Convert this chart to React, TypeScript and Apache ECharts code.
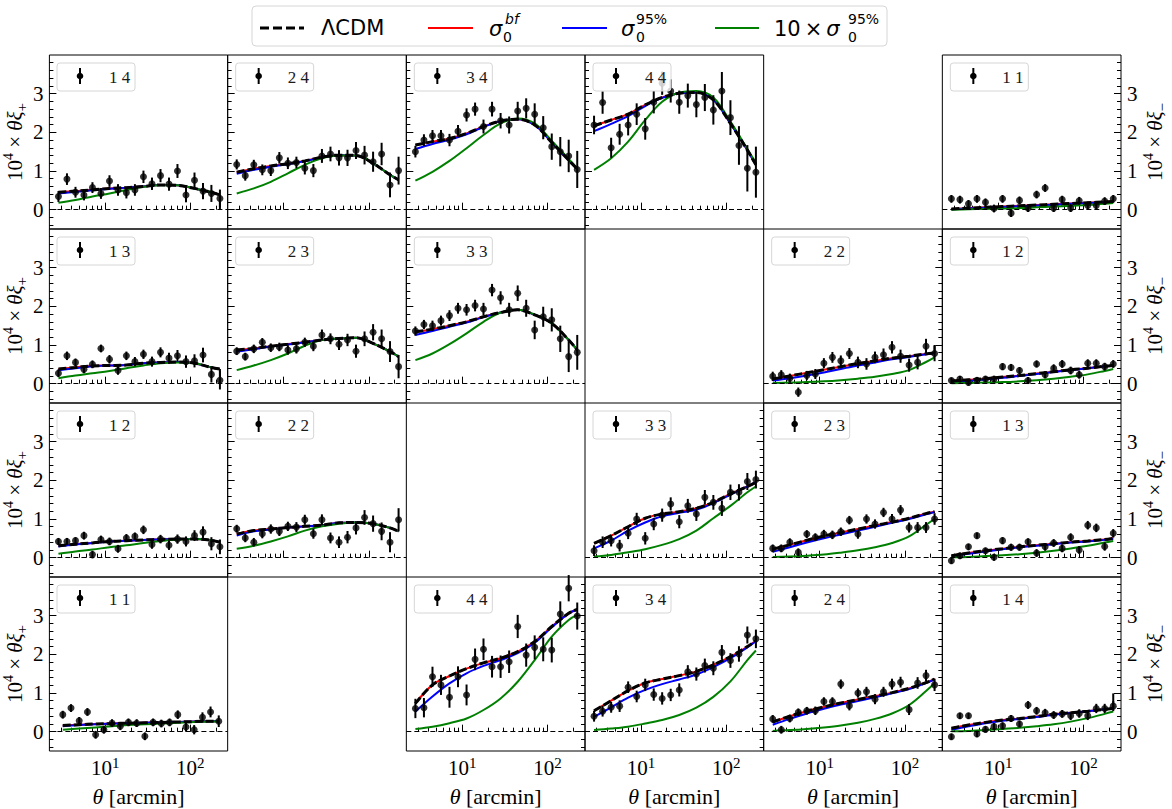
import { useEffect, useRef } from 'react';
import * as echarts from 'echarts';

// ---------- angular bins (arcmin) ----------
const THETA = [2.81, 3.54, 4.46, 5.61, 7.06, 8.89, 11.2, 14.1, 17.7, 22.3, 28.1, 35.4, 44.6, 56.1, 70.6, 88.9, 112, 141, 177, 223];
const THETA_11 = [3.16, 3.95, 4.93, 6.16, 7.7, 9.62, 12.0, 15.0, 18.7, 23.4, 29.2, 36.5, 45.6, 57.0, 71.2, 88.9, 111, 139, 173, 216];
const NODES = [2.81, 4.46, 7.06, 11.2, 17.7, 28.1, 44.6, 70.6, 112, 177, 223];
const NODES_11 = [3.16, 4.93, 7.7, 12.0, 18.7, 29.2, 45.6, 71.2, 111, 173, 216];

// ---------- tick positions ----------
const X_MAJOR_TICKS = [10, 100];
const X_MINOR_TICKS = [3, 4, 5, 6, 7, 8, 9, 20, 30, 40, 50, 60, 70, 80, 90, 200];
const Y_MAJOR_TICKS = [0, 1, 2, 3];
const Y_MINOR_TICKS = [-0.4, -0.2, 0.2, 0.4, 0.6, 0.8, 1.2, 1.4, 1.6, 1.8, 2.2, 2.4, 2.6, 2.8, 3.2, 3.4, 3.6, 3.8];

// ---------- xi_plus ----------
const P14_Y = [0.34, 0.79, 0.45, 0.38, 0.57, 0.42, 0.74, 0.51, 0.44, 0.51, 0.85, 0.67, 0.88, 0.66, 1.0, 0.38, 0.76, 0.48, 0.42, 0.29];
const P14_E = [0.14, 0.15, 0.14, 0.14, 0.14, 0.14, 0.15, 0.15, 0.15, 0.15, 0.16, 0.16, 0.17, 0.17, 0.18, 0.19, 0.2, 0.21, 0.22, 0.23];
const P14_L = [0.45, 0.48, 0.51, 0.55, 0.57, 0.6, 0.64, 0.63, 0.55, 0.45, 0.38];
const P14_N = [0.42, 0.46, 0.5, 0.54, 0.57, 0.6, 0.64, 0.63, 0.55, 0.45, 0.38];
const P14_T = [0.18, 0.25, 0.34, 0.42, 0.51, 0.59, 0.63, 0.63, 0.55, 0.45, 0.38];

const P24_Y = [1.17, 0.88, 1.16, 1.03, 1.01, 1.34, 1.2, 1.22, 1.07, 1.01, 1.39, 1.44, 1.34, 1.34, 1.53, 1.41, 1.24, 1.44, 0.64, 1.01];
const P24_E = [0.13, 0.13, 0.13, 0.14, 0.14, 0.15, 0.15, 0.15, 0.16, 0.17, 0.18, 0.19, 0.2, 0.21, 0.22, 0.24, 0.26, 0.29, 0.32, 0.36];
const P24_L = [0.97, 1.06, 1.13, 1.19, 1.26, 1.36, 1.41, 1.4, 1.2, 0.9, 0.77];
const P24_N = [0.93, 1.03, 1.11, 1.18, 1.25, 1.35, 1.41, 1.4, 1.2, 0.9, 0.77];
const P24_T = [0.42, 0.55, 0.72, 0.94, 1.16, 1.33, 1.4, 1.4, 1.2, 0.9, 0.77];

const P34_Y = [1.5, 1.8, 1.91, 1.91, 1.8, 2.03, 2.45, 2.6, 2.15, 2.6, 2.3, 2.19, 2.55, 2.62, 2.47, 2.12, 1.63, 1.5, 1.39, 1.04];
const P34_E = [0.15, 0.15, 0.15, 0.15, 0.16, 0.16, 0.17, 0.17, 0.18, 0.19, 0.2, 0.22, 0.24, 0.26, 0.28, 0.3, 0.34, 0.38, 0.42, 0.48];
const P34_L = [1.67, 1.76, 1.84, 1.97, 2.15, 2.29, 2.34, 2.19, 1.74, 1.28, 1.05];
const P34_N = [1.57, 1.7, 1.81, 1.95, 2.14, 2.29, 2.34, 2.19, 1.74, 1.28, 1.05];
const P34_T = [0.75, 0.98, 1.26, 1.59, 1.93, 2.23, 2.36, 2.23, 1.78, 1.31, 1.07];

const P44_Y = [2.19, 2.77, 1.6, 1.95, 2.19, 2.47, 2.09, 2.78, 3.27, 3.07, 2.78, 2.95, 2.72, 2.9, 2.58, 3.07, 2.38, 1.66, 1.07, 0.97];
const P44_E = [0.24, 0.29, 0.26, 0.27, 0.27, 0.28, 0.28, 0.29, 0.3, 0.3, 0.3, 0.31, 0.33, 0.35, 0.38, 0.49, 0.45, 0.5, 0.6, 0.66];
const P44_L = [2.17, 2.32, 2.47, 2.71, 2.9, 3.01, 3.03, 2.84, 2.23, 1.54, 1.16];
const P44_N = [2.03, 2.22, 2.42, 2.68, 2.89, 3.01, 3.03, 2.84, 2.23, 1.54, 1.16];
const P44_T = [1.03, 1.33, 1.76, 2.32, 2.79, 3.03, 3.07, 2.9, 2.28, 1.57, 1.21];

const P13_Y = [0.27, 0.72, 0.55, 0.37, 0.5, 0.91, 0.63, 0.34, 0.72, 0.57, 0.76, 0.57, 0.81, 0.66, 0.72, 0.57, 0.59, 0.74, 0.24, 0.09];
const P13_E = [0.1, 0.11, 0.1, 0.1, 0.1, 0.1, 0.11, 0.11, 0.11, 0.12, 0.12, 0.13, 0.13, 0.14, 0.15, 0.16, 0.17, 0.19, 0.21, 0.24];
const P13_L = [0.38, 0.42, 0.46, 0.47, 0.48, 0.53, 0.55, 0.56, 0.53, 0.42, 0.38];
const P13_N = [0.35, 0.4, 0.45, 0.47, 0.48, 0.53, 0.55, 0.56, 0.53, 0.42, 0.38];
const P13_T = [0.14, 0.21, 0.27, 0.33, 0.4, 0.47, 0.53, 0.55, 0.53, 0.42, 0.38];

const P23_Y = [0.84, 0.7, 0.9, 1.07, 0.93, 0.95, 0.87, 0.9, 1.07, 0.97, 1.26, 1.16, 1.02, 1.13, 0.84, 1.16, 1.33, 1.16, 0.83, 0.44];
const P23_E = [0.1, 0.1, 0.11, 0.11, 0.11, 0.11, 0.12, 0.12, 0.12, 0.13, 0.14, 0.14, 0.15, 0.16, 0.17, 0.19, 0.21, 0.24, 0.27, 0.3];
const P23_L = [0.87, 0.91, 0.97, 1.02, 1.07, 1.13, 1.17, 1.19, 1.04, 0.83, 0.7];
const P23_N = [0.83, 0.89, 0.96, 1.01, 1.07, 1.13, 1.17, 1.19, 1.04, 0.83, 0.7];
const P23_T = [0.35, 0.47, 0.61, 0.78, 0.98, 1.13, 1.17, 1.19, 1.04, 0.83, 0.7];

const P33_Y = [1.36, 1.53, 1.5, 1.63, 1.76, 1.95, 1.91, 2.02, 1.93, 2.42, 2.22, 1.91, 2.34, 1.95, 1.39, 1.73, 1.65, 1.16, 0.7, 0.81];
const P33_E = [0.12, 0.12, 0.13, 0.13, 0.14, 0.14, 0.15, 0.15, 0.16, 0.16, 0.17, 0.18, 0.2, 0.22, 0.24, 0.26, 0.3, 0.34, 0.4, 0.45];
const P33_L = [1.34, 1.41, 1.5, 1.6, 1.73, 1.84, 1.91, 1.78, 1.56, 1.13, 0.87];
const P33_N = [1.26, 1.36, 1.47, 1.58, 1.72, 1.84, 1.91, 1.78, 1.56, 1.13, 0.87];
const P33_T = [0.61, 0.78, 1.02, 1.3, 1.6, 1.84, 1.91, 1.79, 1.56, 1.13, 0.87];

const P12_Y = [0.42, 0.42, 0.44, 0.57, 0.08, 0.47, 0.42, 0.23, 0.51, 0.55, 0.72, 0.34, 0.48, 0.32, 0.48, 0.42, 0.57, 0.66, 0.36, 0.28];
const P12_E = [0.09, 0.09, 0.09, 0.1, 0.1, 0.1, 0.1, 0.1, 0.1, 0.1, 0.11, 0.11, 0.11, 0.12, 0.12, 0.13, 0.14, 0.15, 0.17, 0.19];
const P12_L = [0.31, 0.35, 0.38, 0.42, 0.44, 0.46, 0.47, 0.48, 0.48, 0.45, 0.4];
const P12_N = [0.29, 0.34, 0.38, 0.42, 0.44, 0.46, 0.47, 0.48, 0.48, 0.45, 0.4];
const P12_T = [0.1, 0.16, 0.21, 0.27, 0.32, 0.38, 0.43, 0.47, 0.48, 0.45, 0.4];

const P22_Y = [0.75, 0.51, 0.4, 0.62, 0.74, 0.68, 0.81, 0.79, 0.98, 0.62, 0.98, 0.51, 0.4, 0.53, 0.77, 1.04, 0.88, 0.68, 0.4, 0.98];
const P22_E = [0.1, 0.11, 0.11, 0.12, 0.12, 0.12, 0.12, 0.13, 0.13, 0.13, 0.14, 0.14, 0.15, 0.16, 0.17, 0.19, 0.21, 0.23, 0.26, 0.3];
const P22_L = [0.61, 0.7, 0.74, 0.78, 0.81, 0.84, 0.9, 0.91, 0.88, 0.77, 0.68];
const P22_N = [0.57, 0.68, 0.73, 0.78, 0.81, 0.84, 0.9, 0.91, 0.88, 0.77, 0.68];
const P22_T = [0.23, 0.31, 0.42, 0.55, 0.7, 0.81, 0.88, 0.91, 0.88, 0.77, 0.68];

const P11_Y = [0.44, 0.61, 0.28, 0.51, -0.08, 0.05, 0.22, 0.14, 0.24, 0.22, -0.12, 0.24, 0.21, 0.24, 0.44, 0.12, 0.05, 0.37, 0.51, 0.27];
const P11_E = [0.1, 0.1, 0.1, 0.1, 0.1, 0.1, 0.1, 0.1, 0.1, 0.1, 0.1, 0.1, 0.1, 0.1, 0.11, 0.11, 0.12, 0.13, 0.14, 0.15];
const P11_L = [0.16, 0.18, 0.2, 0.21, 0.22, 0.23, 0.24, 0.25, 0.26, 0.27, 0.27];
const P11_N = [0.14, 0.17, 0.19, 0.21, 0.22, 0.23, 0.24, 0.25, 0.26, 0.27, 0.27];
const P11_T = [0.05, 0.08, 0.11, 0.14, 0.17, 0.19, 0.21, 0.23, 0.25, 0.26, 0.27];

// ---------- xi_minus ----------
const M11_Y = [0.28, 0.26, 0.15, 0.28, 0.19, 0.03, 0.28, -0.09, 0.24, 0.04, 0.39, 0.56, 0.04, 0.26, 0.04, 0.23, 0.11, 0.11, 0.22, 0.28];
const M11_E = [0.1, 0.1, 0.1, 0.1, 0.1, 0.1, 0.1, 0.1, 0.1, 0.1, 0.1, 0.1, 0.1, 0.1, 0.1, 0.1, 0.1, 0.1, 0.1, 0.1];
const M11_L = [0.02, 0.04, 0.06, 0.08, 0.1, 0.12, 0.14, 0.16, 0.18, 0.2, 0.21];
const M11_N = [0.01, 0.03, 0.05, 0.07, 0.09, 0.11, 0.13, 0.15, 0.17, 0.19, 0.21];
const M11_T = [0.0, 0.01, 0.02, 0.03, 0.04, 0.06, 0.08, 0.1, 0.12, 0.15, 0.17];

const M22_Y = [0.19, 0.23, 0.14, -0.22, 0.21, 0.25, 0.53, 0.68, 0.59, 0.78, 0.55, 0.51, 0.68, 0.75, 0.94, 0.71, 0.48, 0.55, 0.97, 0.78];
const M22_E = [0.12, 0.12, 0.12, 0.12, 0.12, 0.13, 0.13, 0.14, 0.14, 0.14, 0.15, 0.15, 0.15, 0.16, 0.16, 0.17, 0.17, 0.18, 0.19, 0.2];
const M22_L = [0.12, 0.2, 0.28, 0.36, 0.44, 0.52, 0.59, 0.66, 0.71, 0.77, 0.79];
const M22_N = [0.08, 0.14, 0.21, 0.29, 0.38, 0.47, 0.55, 0.63, 0.69, 0.76, 0.79];
const M22_T = [0.02, 0.03, 0.04, 0.06, 0.09, 0.13, 0.18, 0.25, 0.35, 0.56, 0.68];

const M12_Y = [0.08, 0.12, 0.03, 0.09, 0.12, 0.12, 0.44, 0.42, 0.34, 0.08, 0.51, 0.23, 0.4, 0.51, 0.34, 0.23, 0.53, 0.53, 0.44, 0.51];
const M12_E = [0.08, 0.08, 0.08, 0.08, 0.08, 0.08, 0.09, 0.09, 0.09, 0.09, 0.09, 0.09, 0.1, 0.1, 0.1, 0.1, 0.1, 0.1, 0.1, 0.1];
const M12_L = [0.07, 0.1, 0.13, 0.17, 0.21, 0.26, 0.31, 0.36, 0.4, 0.45, 0.47];
const M12_N = [0.04, 0.07, 0.11, 0.15, 0.2, 0.25, 0.3, 0.35, 0.4, 0.45, 0.47];
const M12_T = [0.01, 0.02, 0.03, 0.04, 0.06, 0.09, 0.13, 0.18, 0.24, 0.33, 0.38];

const M33_Y = [0.18, 0.4, 0.44, 0.31, 0.63, 1.0, 0.5, 0.87, 1.1, 1.39, 0.93, 1.34, 1.13, 1.56, 1.43, 1.28, 1.69, 1.69, 1.97, 2.02];
const M33_E = [0.14, 0.15, 0.15, 0.15, 0.15, 0.16, 0.16, 0.16, 0.17, 0.17, 0.17, 0.18, 0.18, 0.19, 0.19, 0.2, 0.2, 0.21, 0.22, 0.23];
const M33_L = [0.37, 0.57, 0.8, 1.02, 1.13, 1.19, 1.28, 1.43, 1.65, 1.84, 1.95];
const M33_N = [0.24, 0.44, 0.7, 0.91, 1.07, 1.16, 1.24, 1.41, 1.63, 1.84, 1.95];
const M33_T = [0.03, 0.07, 0.14, 0.22, 0.33, 0.48, 0.7, 1.02, 1.34, 1.69, 1.84];

const M23_Y = [0.24, 0.24, 0.4, 0.14, 0.61, 0.53, 0.61, 0.59, 0.67, 0.97, 0.61, 1.0, 0.87, 1.17, 1.0, 1.23, 0.78, 0.78, 0.78, 1.0];
const M23_E = [0.1, 0.1, 0.1, 0.1, 0.1, 0.1, 0.11, 0.11, 0.11, 0.11, 0.12, 0.12, 0.12, 0.12, 0.13, 0.13, 0.13, 0.14, 0.14, 0.15];
const M23_L = [0.22, 0.33, 0.45, 0.56, 0.65, 0.74, 0.83, 0.92, 1.02, 1.14, 1.19];
const M23_N = [0.15, 0.27, 0.39, 0.5, 0.6, 0.7, 0.8, 0.9, 1.0, 1.12, 1.18];
const M23_T = [0.02, 0.03, 0.05, 0.08, 0.13, 0.19, 0.27, 0.38, 0.55, 0.85, 1.0];

const M13_Y = [-0.08, 0.05, 0.28, 0.57, 0.18, 0.01, 0.44, 0.27, 0.27, 0.41, 0.12, 0.28, 0.38, 0.24, 0.53, 0.2, 0.84, 0.77, 0.29, 0.63];
const M13_E = [0.08, 0.08, 0.08, 0.08, 0.08, 0.09, 0.09, 0.09, 0.09, 0.09, 0.1, 0.1, 0.1, 0.1, 0.1, 0.1, 0.11, 0.11, 0.11, 0.11];
const M13_L = [0.05, 0.12, 0.18, 0.23, 0.28, 0.32, 0.36, 0.4, 0.43, 0.47, 0.5];
const M13_N = [0.03, 0.1, 0.16, 0.22, 0.27, 0.31, 0.35, 0.39, 0.42, 0.46, 0.49];
const M13_T = [0.01, 0.02, 0.04, 0.06, 0.09, 0.13, 0.18, 0.24, 0.31, 0.39, 0.43];

const M44_Y = [0.6, 0.62, 1.42, 1.21, 0.89, 1.42, 0.95, 1.87, 2.13, 1.68, 1.68, 1.81, 2.72, 1.98, 2.18, 2.13, 2.11, 3.04, 3.71, 2.99];
const M44_E = [0.25, 0.25, 0.26, 0.26, 0.27, 0.27, 0.27, 0.28, 0.28, 0.28, 0.29, 0.29, 0.3, 0.3, 0.31, 0.31, 0.32, 0.33, 0.34, 0.35];
const M44_L = [0.73, 1.21, 1.44, 1.63, 1.78, 1.9, 2.07, 2.33, 2.72, 3.06, 3.16];
const M44_N = [0.52, 0.91, 1.25, 1.51, 1.7, 1.85, 2.03, 2.3, 2.7, 3.06, 3.16];
const M44_T = [0.07, 0.13, 0.22, 0.34, 0.56, 0.86, 1.29, 1.85, 2.46, 2.89, 3.02];

const M34_Y = [0.4, 0.53, 0.63, 0.66, 1.15, 0.91, 1.21, 0.96, 0.86, 0.95, 1.08, 1.55, 1.49, 1.71, 1.64, 2.05, 1.84, 2.01, 2.5, 2.4];
const M34_E = [0.14, 0.14, 0.14, 0.15, 0.15, 0.15, 0.16, 0.16, 0.16, 0.16, 0.17, 0.17, 0.17, 0.18, 0.18, 0.19, 0.19, 0.2, 0.22, 0.24];
const M34_L = [0.54, 0.8, 1.06, 1.26, 1.36, 1.45, 1.56, 1.73, 1.94, 2.2, 2.35];
const M34_N = [0.38, 0.63, 0.88, 1.08, 1.23, 1.35, 1.48, 1.67, 1.9, 2.18, 2.34];
const M34_T = [0.04, 0.08, 0.13, 0.21, 0.3, 0.43, 0.62, 0.9, 1.3, 1.85, 2.1];

const M24_Y = [0.33, 0.05, 0.34, 0.5, 0.54, 0.54, 0.78, 0.78, 1.23, 0.67, 1.0, 1.03, 0.84, 1.03, 1.23, 1.28, 0.57, 1.26, 1.45, 1.21];
const M24_E = [0.1, 0.1, 0.1, 0.1, 0.1, 0.11, 0.11, 0.11, 0.12, 0.12, 0.12, 0.13, 0.13, 0.13, 0.14, 0.14, 0.14, 0.15, 0.15, 0.16];
const M24_L = [0.25, 0.4, 0.53, 0.64, 0.74, 0.83, 0.92, 1.01, 1.12, 1.27, 1.36];
const M24_N = [0.18, 0.33, 0.47, 0.59, 0.7, 0.79, 0.89, 0.99, 1.1, 1.26, 1.35];
const M24_T = [0.02, 0.04, 0.07, 0.11, 0.16, 0.23, 0.33, 0.47, 0.69, 1.05, 1.25];

const M14_Y = [-0.13, 0.41, 0.41, -0.06, 0.06, 0.13, 0.15, 0.34, 0.2, 0.69, 0.54, 0.49, 0.43, 0.46, 0.41, 0.47, 0.41, 0.6, 0.6, 0.66];
const M14_E = [0.08, 0.08, 0.08, 0.08, 0.08, 0.09, 0.09, 0.09, 0.09, 0.1, 0.1, 0.1, 0.1, 0.1, 0.11, 0.11, 0.11, 0.12, 0.12, 0.13];
const M14_L = [0.09, 0.17, 0.24, 0.3, 0.34, 0.39, 0.45, 0.49, 0.53, 0.58, 0.6];
const M14_N = [0.05, 0.14, 0.22, 0.28, 0.33, 0.38, 0.44, 0.48, 0.53, 0.58, 0.6];
const M14_T = [0.01, 0.02, 0.04, 0.07, 0.1, 0.14, 0.19, 0.26, 0.35, 0.46, 0.52];

type Panel = {
  r: number; c: number; label: string; side: '+' | '-';
  theta: number[]; nodes: number[];
  y: number[]; e: number[]; lcdm: number[]; bf: number[]; p95: number[]; p10: number[];
  end?: number;
};

const PANELS: Panel[] = [
  { r: 0, c: 0, label: '1 4', side: '+', theta: THETA, nodes: NODES, y: P14_Y, e: P14_E, lcdm: P14_L, bf: P14_L, p95: P14_N, p10: P14_T, end: 0 },
  { r: 0, c: 1, label: '2 4', side: '+', theta: THETA, nodes: NODES, y: P24_Y, e: P24_E, lcdm: P24_L, bf: P24_L, p95: P24_N, p10: P24_T },
  { r: 0, c: 2, label: '3 4', side: '+', theta: THETA, nodes: NODES, y: P34_Y, e: P34_E, lcdm: P34_L, bf: P34_L, p95: P34_N, p10: P34_T },
  { r: 0, c: 3, label: '4 4', side: '+', theta: THETA, nodes: NODES, y: P44_Y, e: P44_E, lcdm: P44_L, bf: P44_L, p95: P44_N, p10: P44_T },
  { r: 0, c: 5, label: '1 1', side: '-', theta: THETA, nodes: NODES, y: M11_Y, e: M11_E, lcdm: M11_L, bf: M11_L, p95: M11_N, p10: M11_T },
  { r: 1, c: 0, label: '1 3', side: '+', theta: THETA, nodes: NODES, y: P13_Y, e: P13_E, lcdm: P13_L, bf: P13_L, p95: P13_N, p10: P13_T, end: 0 },
  { r: 1, c: 1, label: '2 3', side: '+', theta: THETA, nodes: NODES, y: P23_Y, e: P23_E, lcdm: P23_L, bf: P23_L, p95: P23_N, p10: P23_T },
  { r: 1, c: 2, label: '3 3', side: '+', theta: THETA, nodes: NODES, y: P33_Y, e: P33_E, lcdm: P33_L, bf: P33_L, p95: P33_N, p10: P33_T },
  { r: 1, c: 4, label: '2 2', side: '-', theta: THETA, nodes: NODES, y: M22_Y, e: M22_E, lcdm: M22_L, bf: M22_L, p95: M22_N, p10: M22_T, end: 1.0 },
  { r: 1, c: 5, label: '1 2', side: '-', theta: THETA, nodes: NODES, y: M12_Y, e: M12_E, lcdm: M12_L, bf: M12_L, p95: M12_N, p10: M12_T },
  { r: 2, c: 0, label: '1 2', side: '+', theta: THETA, nodes: NODES, y: P12_Y, e: P12_E, lcdm: P12_L, bf: P12_L, p95: P12_N, p10: P12_T },
  { r: 2, c: 1, label: '2 2', side: '+', theta: THETA, nodes: NODES, y: P22_Y, e: P22_E, lcdm: P22_L, bf: P22_L, p95: P22_N, p10: P22_T },
  { r: 2, c: 3, label: '3 3', side: '-', theta: THETA, nodes: NODES, y: M33_Y, e: M33_E, lcdm: M33_L, bf: M33_L, p95: M33_N, p10: M33_T },
  { r: 2, c: 4, label: '2 3', side: '-', theta: THETA, nodes: NODES, y: M23_Y, e: M23_E, lcdm: M23_L, bf: M23_L, p95: M23_N, p10: M23_T },
  { r: 2, c: 5, label: '1 3', side: '-', theta: THETA, nodes: NODES, y: M13_Y, e: M13_E, lcdm: M13_L, bf: M13_L, p95: M13_N, p10: M13_T },
  { r: 3, c: 0, label: '1 1', side: '+', theta: THETA_11, nodes: NODES_11, y: P11_Y, e: P11_E, lcdm: P11_L, bf: P11_L, p95: P11_N, p10: P11_T },
  { r: 3, c: 2, label: '4 4', side: '-', theta: THETA, nodes: NODES, y: M44_Y, e: M44_E, lcdm: M44_L, bf: M44_L, p95: M44_N, p10: M44_T },
  { r: 3, c: 3, label: '3 4', side: '-', theta: THETA, nodes: NODES, y: M34_Y, e: M34_E, lcdm: M34_L, bf: M34_L, p95: M34_N, p10: M34_T },
  { r: 3, c: 4, label: '2 4', side: '-', theta: THETA, nodes: NODES, y: M24_Y, e: M24_E, lcdm: M24_L, bf: M24_L, p95: M24_N, p10: M24_T },
  { r: 3, c: 5, label: '1 4', side: '-', theta: THETA, nodes: NODES, y: M14_Y, e: M14_E, lcdm: M14_L, bf: M14_L, p95: M14_N, p10: M14_T, end: 0.99 },
];

const SERIF = 'Liberation Serif, DejaVu Serif, serif';
const SANS = 'DejaVu Sans, sans-serif';
const LEFT0 = 49;
const TOP0 = 55;
const COL_W = (1121 - 49) / 6;
const ROW_H = 174;
const X_MIN = 2.2;
const X_MAX = 275;
const Y_MIN = -0.5;
const Y_MAX = 4;

const nameRich = {
  n: { fontFamily: SERIF, fontSize: 21, lineHeight: 28, color: '#000' },
  i: { fontFamily: SERIF, fontSize: 21, lineHeight: 28, fontStyle: 'italic', color: '#000' },
  sup: { fontFamily: SERIF, fontSize: 14, verticalAlign: 'top', color: '#000' },
  sub: { fontFamily: SERIF, fontSize: 15, verticalAlign: 'bottom', color: '#000' },
};

function buildOption() {
  const grid: any[] = [];
  const xAxis: any[] = [];
  const yAxis: any[] = [];
  const series: any[] = [];
  const graphic: any[] = [];

  PANELS.forEach((p, i) => {
    const left = LEFT0 + p.c * COL_W;
    const top = TOP0 + p.r * ROW_H;
    grid.push({ left, top, width: COL_W, height: ROW_H, show: true, borderColor: '#000', borderWidth: 1, backgroundColor: 'transparent' });
    const bottomRow = p.r === 3;
    const showYLab = (p.side === '+' && p.c === 0) || (p.side === '-' && p.c === 5);
    const yPos = p.side === '+' ? 'left' : 'right';

    xAxis.push({
      gridIndex: i, type: 'log', logBase: 10, min: X_MIN, max: X_MAX, position: 'bottom',
      axisLine: { show: false }, splitLine: { show: false },
      axisTick: { show: true, inside: true, length: 7, customValues: X_MAJOR_TICKS, lineStyle: { color: '#000', width: 1 } },
      axisLabel: {
        show: bottomRow, customValues: X_MAJOR_TICKS, margin: 4, fontFamily: SERIF,
        formatter: (v: number) => `{b|10}{s|${Math.round(Math.log10(v))}}`,
        rich: {
          b: { fontFamily: SERIF, fontSize: 21, lineHeight: 26, color: '#000' },
          s: { fontFamily: SERIF, fontSize: 15, verticalAlign: 'top', color: '#000' },
        },
      },
      name: bottomRow ? '{i|θ}{n| [arcmin]}' : '',
      nameLocation: 'middle', nameGap: 32,
      nameTextStyle: { fontFamily: SERIF, rich: { n: { fontFamily: SERIF, fontSize: 22, lineHeight: 26, color: '#000' }, i: { fontFamily: SERIF, fontSize: 22, lineHeight: 26, fontStyle: 'italic', color: '#000' } } },
    });
    xAxis.push({
      gridIndex: i, type: 'log', logBase: 10, min: X_MIN, max: X_MAX, position: 'bottom',
      axisLine: { show: false }, splitLine: { show: false },
      axisTick: { show: true, inside: true, length: 4, customValues: X_MINOR_TICKS, lineStyle: { color: '#000', width: 1 } },
      axisLabel: { show: false },
    });
    yAxis.push({
      gridIndex: i, type: 'value', min: Y_MIN, max: Y_MAX, position: yPos,
      axisLine: { show: false }, splitLine: { show: false },
      axisTick: { show: true, inside: true, length: 7, customValues: Y_MAJOR_TICKS, lineStyle: { color: '#000', width: 1 } },
      axisLabel: { show: showYLab, customValues: Y_MAJOR_TICKS, margin: 6, fontFamily: SERIF, fontSize: 21, color: '#000', formatter: (v: number) => String(v) },
      name: showYLab ? `{n|10}{sup|4}{n| × }{i|θξ}{sub|${p.side === '+' ? '+' : '−'}}` : '',
      nameLocation: 'middle', nameRotate: 90, nameGap: p.side === '+' ? 15 : 20,
      nameTextStyle: { fontFamily: SERIF, rich: nameRich },
    });
    yAxis.push({
      gridIndex: i, type: 'value', min: Y_MIN, max: Y_MAX, position: yPos,
      axisLine: { show: false }, splitLine: { show: false },
      axisTick: { show: true, inside: true, length: 4, customValues: Y_MINOR_TICKS, lineStyle: { color: '#000', width: 1 } },
      axisLabel: { show: false },
    });

    const xi = 2 * i;
    const yi = 2 * i;
    const curve = (vals: number[]) => p.nodes.map((t, k) => [t, vals[k]]);
    const base = { xAxisIndex: xi, yAxisIndex: yi, showSymbol: false, symbol: 'none', smooth: 0.35, silent: true };
    series.push({ ...base, type: 'line', name: 'σbf', data: curve(p.bf), lineStyle: { color: '#ff0000', width: 2 }, z: 2 });
    series.push({ ...base, type: 'line', name: 'σ95', data: curve(p.p95), lineStyle: { color: '#0000ff', width: 2 }, z: 3 });
    series.push({ ...base, type: 'line', name: '10σ95', data: curve(p.p10), lineStyle: { color: '#008000', width: 2 }, z: 4 });
    series.push({
      ...base, type: 'line', name: 'ΛCDM', data: curve(p.lcdm), lineStyle: { color: '#000', width: 3, type: [8, 3] }, z: 5,
      markLine: { silent: true, symbol: ['none', 'none'], label: { show: false }, lineStyle: { color: '#000', width: 1.2, type: [5, 3] }, data: [{ yAxis: 0 }] },
    });
    if (p.end !== undefined) {
      const lastT = p.nodes[p.nodes.length - 1];
      const lastV = p.lcdm[p.lcdm.length - 1];
      series.push({ ...base, type: 'line', smooth: false, data: [[lastT, lastV], [lastT, p.end]], lineStyle: { color: '#000', width: 2 }, z: 5 });
    }
    series.push({
      type: 'custom', xAxisIndex: xi, yAxisIndex: yi, silent: true, z: 6,
      data: p.y.map((v, k) => [p.theta[k], v - p.e[k], v + p.e[k]]),
      encode: { x: 0, y: [1, 2] },
      renderItem: (_params: any, api: any) => {
        const a = api.coord([api.value(0), api.value(1)]);
        const b = api.coord([api.value(0), api.value(2)]);
        return { type: 'line', shape: { x1: a[0], y1: a[1], x2: b[0], y2: b[1] }, style: { stroke: '#000', lineWidth: 2 } };
      },
    });
    series.push({
      type: 'scatter', xAxisIndex: xi, yAxisIndex: yi, silent: true, z: 7,
      data: p.y.map((v, k) => [p.theta[k], v]), symbolSize: 7, itemStyle: { color: '#000' },
    });

    // per-panel legend box
    graphic.push({ type: 'rect', z: 100, shape: { x: left + 8, y: top + 8, width: 78, height: 28, r: 3 }, style: { fill: 'rgba(255,255,255,0.8)', stroke: '#d6d6d6', lineWidth: 1 } });
    graphic.push({ type: 'line', z: 101, shape: { x1: left + 31, y1: top + 13, x2: left + 31, y2: top + 29 }, style: { stroke: '#000', lineWidth: 2 } });
    graphic.push({ type: 'circle', z: 101, shape: { cx: left + 31, cy: top + 21, r: 3.3 }, style: { fill: '#000' } });
    graphic.push({ type: 'text', z: 101, style: { text: p.label, x: left + 60, y: top + 22, font: '17px ' + SERIF, fontFamily: SERIF, fontSize: 17, fill: '#1a1a1a', align: 'left', verticalAlign: 'middle', textAlign: 'left', textVerticalAlign: 'middle' } });
  });

  // main legend
  const LY = 28;
  const txt = (text: string, x: number, y: number, size: number, italic = false) => ({
    type: 'text', z: 101,
    style: { text, x, y, fontFamily: SANS, fontSize: size, fontStyle: italic ? 'italic' : 'normal', fill: '#000', align: 'left', verticalAlign: 'middle', textAlign: 'left', textVerticalAlign: 'middle' },
  });
  graphic.push({ type: 'rect', z: 100, shape: { x: 252, y: 6, width: 635, height: 40, r: 4 }, style: { fill: '#fff', stroke: '#d6d6d6', lineWidth: 1 } });
  graphic.push({ type: 'line', z: 101, shape: { x1: 260, y1: LY, x2: 304, y2: LY }, style: { stroke: '#000', lineWidth: 3, lineDash: [9, 4] } });
  graphic.push(txt('ΛCDM', 321, LY, 21));
  graphic.push({ type: 'line', z: 101, shape: { x1: 428, y1: LY, x2: 473, y2: LY }, style: { stroke: '#ff0000', lineWidth: 2 } });
  graphic.push(txt('σ', 489, LY + 1, 21, true));
  graphic.push(txt('bf', 505, LY - 9, 14, true));
  graphic.push(txt('0', 503, LY + 9, 14));
  graphic.push({ type: 'line', z: 101, shape: { x1: 562, y1: LY, x2: 607, y2: LY }, style: { stroke: '#0000ff', lineWidth: 2 } });
  graphic.push(txt('σ', 621, LY + 1, 21, true));
  graphic.push(txt('95%', 636, LY - 9, 14));
  graphic.push(txt('0', 636, LY + 9, 14));
  graphic.push({ type: 'line', z: 101, shape: { x1: 715, y1: LY, x2: 759, y2: LY }, style: { stroke: '#008000', lineWidth: 2 } });
  graphic.push({
    type: 'text', z: 101,
    style: {
      text: '{n|10}{x|×}{i|σ}', x: 774, y: LY + 1, align: 'left', verticalAlign: 'middle', textAlign: 'left', textVerticalAlign: 'middle',
      rich: {
        n: { fontFamily: SANS, fontSize: 21, fill: '#000', color: '#000' },
        x: { fontFamily: SANS, fontSize: 21, fill: '#000', color: '#000', padding: [0, 4, 0, 4] },
        i: { fontFamily: SANS, fontSize: 21, fontStyle: 'italic', fill: '#000', color: '#000' },
      },
    },
  });
  graphic.push(txt('95%', 848, LY - 9, 14));
  graphic.push(txt('0', 848, LY + 9, 14));

  return { animation: false, backgroundColor: '#fff', textStyle: { fontFamily: SERIF }, grid, xAxis, yAxis, series, graphic };
}

export default function App() {
  const ref = useRef<HTMLDivElement>(null);
  useEffect(() => {
    if (!ref.current) return;
    const chart = echarts.init(ref.current, undefined, { renderer: 'svg' });
    chart.setOption(buildOption() as any);
    return () => chart.dispose();
  }, []);
  return <div ref={ref} style={{ position: 'fixed', left: 0, top: 0, width: 1172, height: 809, background: '#fff' }} />;
}
